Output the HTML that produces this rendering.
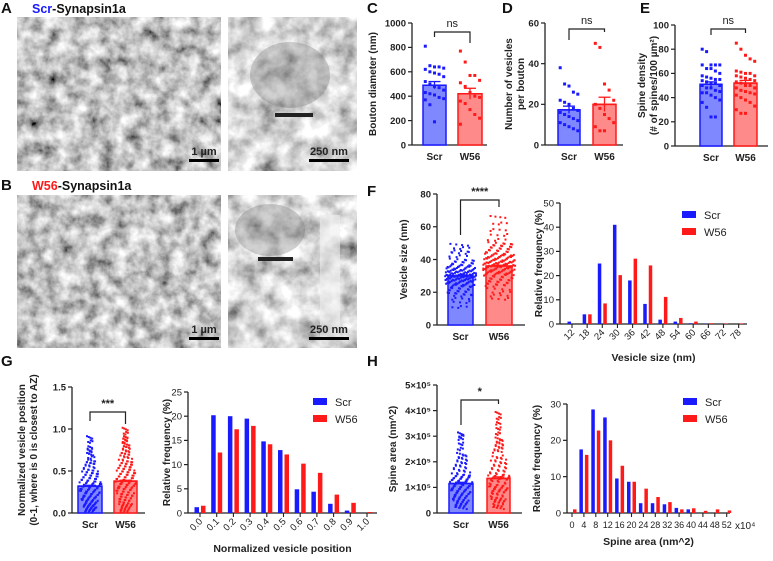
<!DOCTYPE html>
<html><head><meta charset="utf-8"><style>
body{margin:0;background:#fff}
svg{display:block;font-family:"Liberation Sans",Arial,sans-serif}
.t{font-size:9.5px;font-weight:bold;fill:#222}
.lab{font-size:15px;font-weight:bold;fill:#111}
.ttl{font-size:10px;font-weight:bold;fill:#222}
</style></head><body>
<svg id="fig" width="773" height="561" viewBox="0 0 773 561">
<defs>
<filter id="em" x="0" y="0" width="100%" height="100%">
<feTurbulence type="fractalNoise" baseFrequency="0.07" numOctaves="4" seed="3"/>
<feColorMatrix type="matrix" values="1.4 0 0 0 -0.15  1.4 0 0 0 -0.15  1.4 0 0 0 -0.15  0 0 0 0 1"/>
</filter>
<filter id="em2" x="0" y="0" width="100%" height="100%">
<feTurbulence type="fractalNoise" baseFrequency="0.05" numOctaves="4" seed="8"/>
<feColorMatrix type="matrix" values="1.4 0 0 0 -0.02  1.4 0 0 0 -0.02  1.4 0 0 0 -0.02  0 0 0 0 1"/>
</filter>
</defs>
<g>
<rect x="17" y="17" width="204" height="154" filter="url(#em)"/>
<rect x="228" y="17" width="129" height="154" filter="url(#em2)"/>
<ellipse cx="290" cy="75" rx="40" ry="33" fill="#666" opacity="0.3"/>
<rect x="275" y="113" width="38" height="4" fill="#222"/>
<rect x="17" y="195" width="204" height="153" filter="url(#em)"/>
<rect x="228" y="195" width="129" height="153" filter="url(#em2)"/>
<ellipse cx="270" cy="230" rx="35" ry="26" fill="#666" opacity="0.3"/>
<rect x="258" y="257" width="35" height="4" fill="#222"/>
<rect x="320" y="215" width="20" height="125" fill="#eee" opacity="0.6"/>
<g>
<rect x="189" y="159" width="30" height="3" fill="#000"/><text x="204" y="155" text-anchor="middle" class="t" style="font-size:11px">1 µm</text>
<rect x="309" y="159" width="40" height="3" fill="#000"/><text x="329" y="155" text-anchor="middle" class="t" style="font-size:11px">250 nm</text>
<rect x="189" y="337" width="30" height="3" fill="#000"/><text x="204" y="333" text-anchor="middle" class="t" style="font-size:11px">1 µm</text>
<rect x="309" y="337" width="40" height="3" fill="#000"/><text x="329" y="333" text-anchor="middle" class="t" style="font-size:11px">250 nm</text>
</g>
</g>
<text x="1" y="13" class="lab">A</text>
<text x="32" y="13" class="lab" style="font-size:12.5px"><tspan fill="#1a1aff">Scr</tspan>-Synapsin1a</text>
<text x="1" y="190" class="lab">B</text>
<text x="32" y="190" class="lab" style="font-size:12.5px"><tspan fill="#ff1a1a">W56</tspan>-Synapsin1a</text>
<text x="367" y="13" class="lab">C</text>
<text x="502" y="13" class="lab">D</text>
<text x="640" y="13" class="lab">E</text>
<text x="367" y="196" class="lab">F</text>
<text x="1" y="366" class="lab">G</text>
<text x="367" y="366" class="lab">H</text>
<g id="charts"></g>
</svg>
<script>
// ---- data ----
const groups = ["Scr","W56"];
const cScr = [810,650,640,640,630,620,600,590,580,560,520,500,480,470,450,430,420,410,390,380,370,330,190];
const cW56 = [770,680,570,570,530,510,480,430,400,390,360,340,290,250,220,170];
const cMeans = [490,420];
const cSems = [30,45];
const cTicks = [0,200,400,600,800,1000];
const dScr = [38,30,29,26,25,22,21,20,18,17,16,15,14,13,12,11,10,9,8,7];
const dW56 = [50,48,30,27,22,20,18,15,13,11,9,7,7];
const dMeans = [17.3,20];
const dSems = [1.8,3.5];
const dTicks = [0,20,40,60];
const eScr = [80,78,67,67,67,67,64,64,62,60,58,57,56,55,55,54,53,52,52,50,50,48,48,46,45,44,44,42,40,38,36,32,24,24];
const eW56 = [85,80,75,72,70,62,61,60,60,58,58,57,56,55,54,53,52,50,50,48,48,46,45,44,43,42,40,38,36,33,30,27,27];
const eMeans = [51,52];
const eSems = [2,2.2];
const eTicks = [0,20,40,60,80,100];
const fScr = [49,47,45,44,42,40,39,38,37,36,36,35,35,34,34,33,33,33,32,32,32,31,31,31,30,30,30,30,29,29,29,28,28,28,27,27,27,26,26,25,25,24,24,23,22,21,20,19,18,16,14,11];
const fW56 = [66,62,58,55,52,50,49,48,47,46,45,44,43,43,42,42,41,41,40,40,39,39,38,38,38,37,37,36,36,36,35,35,34,34,33,33,32,32,31,31,30,29,28,27,26,25,24,22,20,18,16];
const fMeans = [30,36];
const fSems = [0.4,0.5];
const fTicks = [0,20,40,60,80];
const fhCats = ["12","18","24","30","36","42","48","54","60","66","72","78"];
const fhScr = [1,4,25,41,18,8.3,1.8,1,0.3,0.1,0,0];
const fhW56 = [0,4,8.5,20.2,27,24.2,11.2,2.5,1,0.3,0.2,0.2];
const fhTicks = [0,10,20,30,40,50];
const gScr = [0.9,0.85,0.78,0.75,0.72,0.7,0.66,0.62,0.6,0.58,0.55,0.52,0.5,0.48,0.46,0.44,0.42,0.4,0.38,0.36,0.35,0.33,0.32,0.3,0.28,0.27,0.25,0.24,0.22,0.2,0.19,0.18,0.16,0.15,0.14,0.12,0.11,0.1,0.09,0.08,0.07,0.06,0.05,0.04,0.03,0.02];
const gW56 = [1.0,0.95,0.9,0.88,0.85,0.82,0.8,0.78,0.75,0.72,0.7,0.68,0.65,0.62,0.6,0.58,0.56,0.54,0.52,0.5,0.48,0.46,0.44,0.42,0.4,0.38,0.36,0.35,0.33,0.31,0.3,0.28,0.26,0.24,0.22,0.2,0.18,0.16,0.14,0.12,0.1,0.09,0.08,0.06,0.05,0.03,0.02];
const gMeans = [0.32,0.38];
const gSems = [0.01,0.01];
const gTicks = [0,0.5,1.0,1.5];
const gTickLabels = ["0.0","0.5","1.0","1.5"];
const ghCats = ["0.0","0.1","0.2","0.3","0.4","0.5","0.6","0.7","0.8","0.9","1.0"];
const ghScr = [1.2,20.2,20,19.5,14.8,13,4.9,4.4,1.9,0.5,0];
const ghW56 = [1.5,12.5,17.3,18,14.2,12.1,10.2,8.3,3.8,2.1,0.2];
const ghTicks = [0,5,10,15,20,25];
const hScr = [3.1,3.0,2.9,2.7,2.5,2.3,2.2,2.1,2.0,1.9,1.8,1.7,1.6,1.5,1.45,1.4,1.35,1.3,1.25,1.2,1.15,1.1,1.05,1.0,0.95,0.9,0.85,0.8,0.75,0.7,0.65,0.6,0.55,0.5,0.45,0.4,0.35,0.3,0.25,0.2];
const hW56 = [3.9,3.7,3.5,3.3,3.1,2.9,2.8,2.7,2.6,2.5,2.4,2.2,2.1,2.0,1.9,1.8,1.7,1.6,1.5,1.45,1.4,1.35,1.3,1.2,1.1,1.05,1.0,0.95,0.9,0.85,0.8,0.7,0.6,0.55,0.5,0.45,0.4,0.3,0.25,0.2];
const hMeans = [1.15,1.35];
const hSems = [0.05,0.06];
const hTicks = [0,1,2,3,4,5];
const hhCats = ["0","4","8","12","16","20","24","28","32","36","40","44","48","52"];
const hhScr = [0,17.5,28.5,26.3,9.5,8.6,2.7,2.7,2.4,1.4,1.0,0,0,0];
const hhW56 = [1,16,22.7,20,13,8.6,6.7,4.4,3,1,1.3,0.6,1,0.7];
const hhTicks = [0,10,20,30];

const NS="http://www.w3.org/2000/svg";
const root=document.getElementById('charts');
function mk(tag,attrs,parent){const e=document.createElementNS(NS,tag);for(const k in attrs)e.setAttribute(k,attrs[k]);(parent||root).appendChild(e);return e;}
function txt(s,attrs,parent){const e=mk('text',attrs,parent);e.textContent=s;return e;}
const BLUE="#1a1aff",RED="#ff1a1a",BFILL="#8088ff",RFILL="#ff8a8a";

function barPanel(o){
  const g=mk('g',{});
  
  
  const y=v=>o.y0-(v/o.vmax)*(o.y0-o.yTop);
  mk('line',{x1:o.ax,y1:y(o.vmax),x2:o.ax,y2:o.y0,stroke:"#222","stroke-width":1.3},g);
  mk('line',{x1:o.ax,y1:o.y0,x2:o.xEnd,y2:o.y0,stroke:"#222","stroke-width":1.3},g);
  o.ticks.forEach((t,i)=>{
    mk('line',{x1:o.ax-4,y1:y(t),x2:o.ax,y2:y(t),stroke:"#222","stroke-width":1.2},g);
    const l=txt(o.tickLabels?o.tickLabels[i]:String(t),{x:o.ax-6,y:y(t)+3.3,"text-anchor":"end",class:"t"},g);
    
    
  });
  const tt=txt('',{transform:`translate(${o.titleX},${(o.y0+o.yTop)/2}) rotate(-90)`,"text-anchor":"middle",class:"ttl"},g);
  o.title.forEach((line,i)=>{const ts=document.createElementNS(NS,'tspan');ts.setAttribute('x',0);ts.setAttribute('dy',i?12:0);ts.textContent=line;tt.appendChild(ts);});
  
  
  const series=[o.scr,o.w56];
  o.bx.forEach((b,k)=>{
    const col=k?RED:BLUE, fill=k?RFILL:BFILL;
    const r=mk('rect',{x:b[0],y:y(o.means[k]),width:b[1]-b[0],height:o.y0-y(o.means[k]),fill:fill,stroke:col,"stroke-width":1.5},g);
    
    
    const vals=series[k], cx=(b[0]+b[1])/2, w=(b[1]-b[0])*o.spread;
    vals.forEach((v,i)=>{
      const reps=o.dense?4:1;
      for(let j=0;j<reps;j++){
        let off;
        if(o.dense){
          const f=((i*0.618+j*0.29)%1)-0.5;
          const rel=Math.abs(v-o.means[k])/(o.means[k]+1e-9);
          off=f*w*Math.max(0.25,1-rel*0.6);
        } else off=((i%5)-2)*w/4;
        const p=mk('rect',{x:cx+off-o.ds/2,y:y(v)-o.ds/2+(o.dense?(j-1.5)*o.jy:0),width:o.ds,height:o.ds,fill:col},g);
        
        
      }
    });
    const m=o.means[k],s=o.sems[k];
    mk('line',{x1:cx,y1:y(m+s),x2:cx,y2:y(m-s),stroke:col,"stroke-width":1.3},g);
    mk('line',{x1:cx-6,y1:y(m+s),x2:cx+6,y2:y(m+s),stroke:col,"stroke-width":1.3},g);
    mk('line',{x1:b[0],y1:y(m),x2:b[1],y2:y(m),stroke:col,"stroke-width":1.5},g);
    const xl=txt(groups[k],{x:cx,y:o.y0+15,"text-anchor":"middle",class:"t",style:"font-size:10px"},g);
    
    
  });
  const c1=(o.bx[0][0]+o.bx[0][1])/2,c2=(o.bx[1][0]+o.bx[1][1])/2;
  mk('path',{d:`M${c1},${o.br[1]}V${o.br[0]}H${c2}V${o.br[2]}`,fill:"none",stroke:"#222","stroke-width":1.2},g);
  const st=txt(o.sig,{x:(c1+c2)/2,y:o.br[0]-5,"text-anchor":"middle",class:"t",style:"font-size:11px;font-weight:"+(o.sig=="ns"?"normal":"bold")},g);
  
  
}

function histPanel(o){
  const g=mk('g',{});
  
  
  const y=v=>o.y0-(v/o.vmax)*(o.y0-o.yTop);
  const x=i=>o.x0+i*o.dx;
  mk('line',{x1:o.ax,y1:y(o.vmax),x2:o.ax,y2:o.y0,stroke:"#222","stroke-width":1.3},g);
  mk('line',{x1:o.ax,y1:o.y0,x2:o.xEnd,y2:o.y0,stroke:"#222","stroke-width":1.3},g);
  o.ticks.forEach(t=>{
    mk('line',{x1:o.ax-4,y1:y(t),x2:o.ax,y2:y(t),stroke:"#222","stroke-width":1.2},g);
    const l=txt(String(t),{x:o.ax-6,y:y(t)+3.3,"text-anchor":"end",class:"t",style:"font-weight:normal"},g);
    
    
  });
  const tt=txt(o.ytitle,{transform:`translate(${o.titleX},${(o.y0+o.yTop)/2}) rotate(-90)`,"text-anchor":"middle",class:"ttl"},g);
  
  
  o.cats.forEach((c,i)=>{
    mk('line',{x1:x(i),y1:o.y0,x2:x(i),y2:o.y0+4,stroke:"#222","stroke-width":1.1},g);
    const l=o.rot?txt(c,{transform:`translate(${x(i)+3},${o.y0+9}) rotate(-45)`,"text-anchor":"end",class:"t",style:"font-weight:normal"},g)
                 :txt(c,{x:x(i),y:o.y0+15,"text-anchor":"middle",class:"t",style:"font-weight:normal;font-size:9px"},g);
    
    
    [o.scr[i],o.w56[i]].forEach((v,k)=>{
      if(v<=0)return;
      const bx=k?x(i)+1:x(i)-o.bw-1;
      const r=mk('rect',{x:bx,y:y(v),width:o.bw,height:o.y0-y(v),fill:k?RED:BLUE},g);
      
      
    });
  });
  const xt=txt(o.xtitle,{x:(o.ax+o.xEnd)/2,y:o.xtY,"text-anchor":"middle",class:"ttl",style:"font-size:10.5px"},g);
  
  
  groups.forEach((gn,k)=>{
    const lg=mk('g',{},g);
    
    
    mk('rect',{x:o.lx,y:o.ly+k*17-5,width:14,height:7,fill:k?RED:BLUE},lg);
    txt(gn,{x:o.lx+22,y:o.ly+k*17+3,style:"font-size:11px;fill:#222"},lg);
  });
}

barPanel({name:"bouton-diameter-chart",ax:412,y0:145,yTop:23,vmax:1000,ticks:cTicks,xEnd:487,bx:[[423,446],[458,482]],scr:cScr,w56:cW56,means:cMeans,sems:cSems,ds:3,spread:0.8,dense:false,title:["Bouton diameter (nm)"],titleX:376,br:[32,37,43],sig:"ns"});
barPanel({name:"vesicles-per-bouton-chart",ax:545,y0:145,yTop:23,vmax:60,ticks:dTicks,xEnd:623,bx:[[558,580],[593,616]],scr:dScr,w56:dW56,means:dMeans,sems:dSems,ds:3,spread:0.8,dense:false,title:["Number of vesicles","per bouton"],titleX:512,br:[29,40,32],sig:"ns"});
barPanel({name:"spine-density-chart",ax:675,y0:146,yTop:25,vmax:100,ticks:eTicks,xEnd:768,bx:[[700,722],[734,757]],scr:eScr,w56:eW56,means:eMeans,sems:eSems,ds:3,spread:0.8,dense:false,title:["Spine density","(# of spines/100 µm²)"],titleX:645,br:[29,35,33],sig:"ns"});
barPanel({name:"vesicle-size-chart",ax:437,y0:325,yTop:194,vmax:80,ticks:fTicks,xEnd:525,bx:[[448,473],[486,512]],scr:fScr,w56:fW56,means:fMeans,sems:fSems,ds:2,jy:0.6,spread:1.3,dense:true,title:["Vesicle size (nm)"],titleX:407,br:[200,235,207],sig:"****"});
histPanel({name:"vesicle-size-histogram",ax:560,y0:324,yTop:203,vmax:50,ticks:fhTicks,xEnd:747,cats:fhCats,scr:fhScr,w56:fhW56,x0:572,dx:15.15,bw:3.5,rot:true,ytitle:"Relative frequency (%)",titleX:542,xtitle:"Vesicle size (nm)",xtY:361,lx:682,ly:216});
barPanel({name:"vesicle-position-chart",ax:72,y0:513,yTop:387,vmax:1.5,ticks:gTicks,tickLabels:gTickLabels,xEnd:145,bx:[[78,102],[114,137]],scr:gScr,w56:gW56,means:gMeans,sems:gSems,ds:2,jy:0.8,spread:1.0,dense:true,title:["Normalized vesicle position","(0-1, where is 0 is closest to AZ)"],titleX:25,br:[412,421,424],sig:"***"});
histPanel({name:"vesicle-position-histogram",ax:188,y0:513,yTop:392,vmax:25,ticks:ghTicks,xEnd:377,cats:ghCats,scr:ghScr,w56:ghW56,x0:200,dx:16.7,bw:4.5,rot:true,ytitle:"Relative frequency (%)",titleX:170,xtitle:"Normalized vesicle position",xtY:552,lx:313,ly:403});
barPanel({name:"spine-area-chart",ax:437,y0:513,yTop:385,vmax:5,ticks:hTicks,tickLabels:["0","1×10⁵","2×10⁵","3×10⁵","4×10⁵","5×10⁵"],xEnd:522,bx:[[449,473],[487,510]],scr:hScr,w56:hW56,means:hMeans,sems:hSems,ds:2,jy:0.8,spread:1.0,dense:true,title:["Spine area (nm^2)"],titleX:396,br:[400,425,404],sig:"*"});
histPanel({name:"spine-area-histogram",ax:567,y0:513,yTop:404,vmax:30,ticks:hhTicks,xEnd:730,cats:hhCats,scr:hhScr,w56:hhW56,x0:572,dx:11.9,bw:3.5,rot:false,ytitle:"Relative frequency (%)",titleX:540,xtitle:"Spine area (nm^2)",xtY:545,lx:683,ly:403});
const xp=txt('x10⁴',{x:735,y:529,style:"font-size:10px;fill:#222"});


</script>
</body></html>
